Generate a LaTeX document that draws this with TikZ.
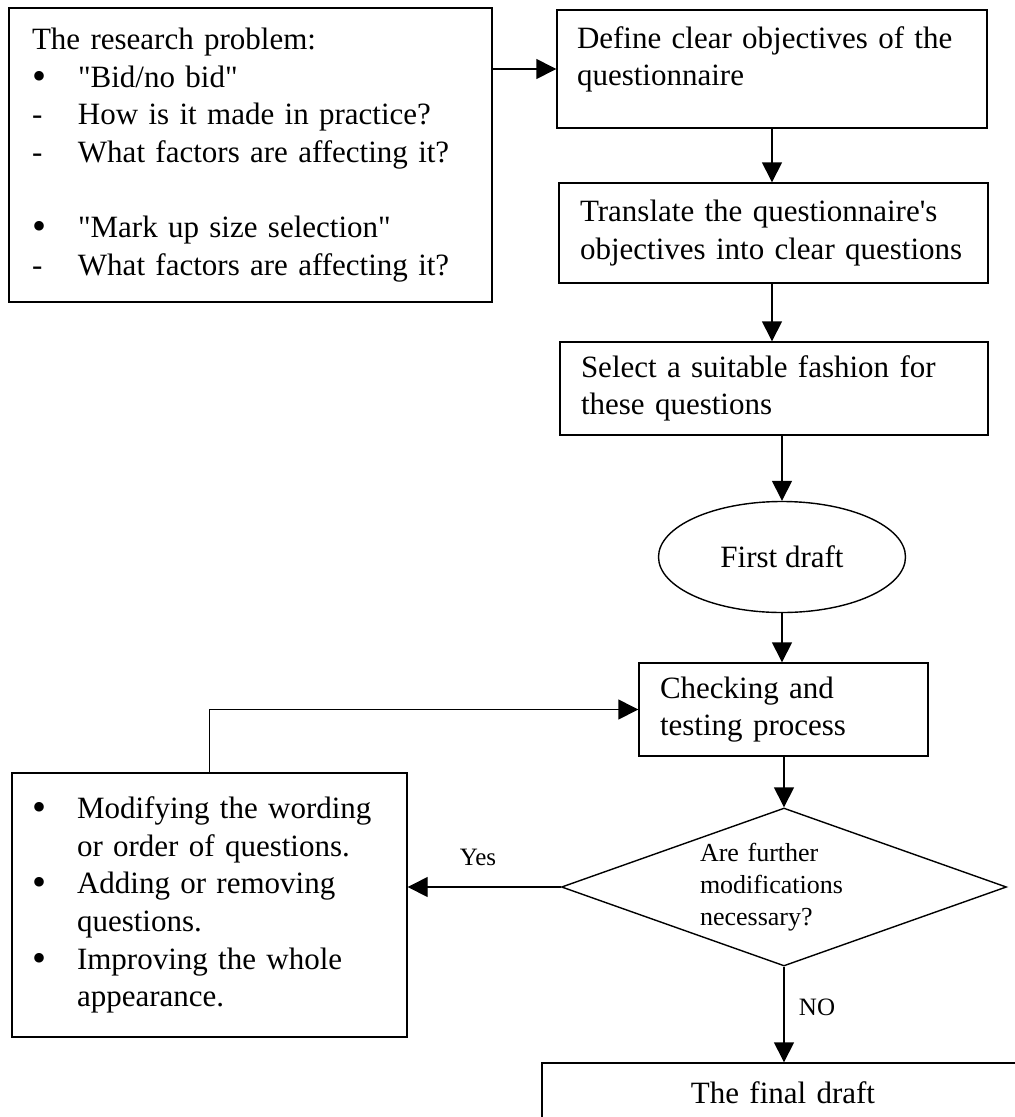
\documentclass[tikz,border=0pt]{standalone}
\usepackage{fontspec}
\setmainfont{Liberation Serif}[Ligatures=TeXOff]
\usetikzlibrary{arrows.meta,shapes.geometric}

% list markers used inside the boxes
\newcommand\bigdot{\raisebox{-2pt}{\fontsize{40}{40}\selectfont•}}
\newcommand\pbul{\makebox[46pt][l]{\bigdot}}
\newcommand\pdash{\makebox[46pt][l]{-}}
\newcommand\mbul{\makebox[45pt][l]{\bigdot}}
\newcommand\mgap{\hspace*{45pt}}

\begin{document}
\hyphenpenalty=10000\relax
\begin{tikzpicture}[x=1pt,y=-1pt,
  box/.style={draw, line width=1.4pt, rectangle, inner ysep=0pt, align=left,
    font=\fontsize{31}{37.7}\selectfont},
  arr/.style={line width=1.4pt, -{Triangle[length=20pt,width=20pt]}},
  lbl/.style={inner sep=0pt, font=\fontsize{25}{30}\selectfont}]
\useasboundingbox (0,0) rectangle (1015,1117);
\clip (0,0) rectangle (1015,1117);

% research problem
\node[box, inner xsep=23pt, text width=437pt, minimum height=294pt] (prob) at (250.5,155)
  {The research problem:\\
   \pbul"Bid/no bid"\\
   \pdash How is it made in practice?\\
   \pdash What factors are affecting it?\\[37.7pt]
   \pbul"Mark up size selection"\\
   \pdash What factors are affecting it?};

% main sequence
\node[box, inner xsep=20pt, text width=390pt, minimum height=118pt] (b1) at (772,69)
  {Define clear objectives of the\\questionnaire\\[-12pt]\mbox{}};
\node[box, inner xsep=21pt, text width=387pt, minimum height=100pt] (b2) at (773.5,233)
  {Translate the questionnaire's\\\mbox{objectives into clear questions}};
\node[box, inner xsep=21pt, text width=386pt, minimum height=93pt] (b3) at (774,388.5)
  {Select a suitable fashion for\\these questions};
\node[draw, line width=1.4pt, ellipse, inner sep=0pt, minimum width=247pt, minimum height=111pt,
  font=\fontsize{31}{37.7}\selectfont] (ell) at (782,557) {First draft};
\node[box, inner xsep=21pt, text width=247pt, minimum height=93pt] (chk) at (783.5,709.5)
  {Checking and\\testing process};
\node[draw, line width=1.4pt, diamond, inner sep=0pt, aspect=2.8, minimum width=445pt,
  minimum height=158pt, text width=168pt, align=left, font=\fontsize{26}{32}\selectfont] (dia) at (784,887)
  {Are further\\modifications\\necessary?};
\node[box, inner xsep=21pt, text width=440pt, minimum height=60pt, align=center] (fin) at (783,1093)
  {The final draft};

% modifications
\node[box, inner xsep=20pt, text width=355pt, minimum height=264pt] (mod) at (209.5,905)
  {\mbul Modifying the wording\\
   \mgap or order of questions.\\
   \mbul Adding or removing\\
   \mgap questions.\\
   \mbul Improving the whole\\
   \mgap appearance.};

% connectors
\draw[arr] (b1.west -| prob.east) -- (b1.west);
\draw[arr] (b1.south) -- (b1.south |- b2.north);
\draw[arr] (b2.south -| b1.south) -- (b1.south |- b3.north);
\draw[arr] (b3.south -| ell.north) -- (ell.north);
\draw[arr] (ell.south) -- (ell.south |- chk.north);
\draw[arr] (chk.south -| dia.north) -- (dia.north);
\draw[arr] (dia.south) -- (dia.south |- fin.north);
\draw[arr] (dia.west) -- (dia.west -| mod.east);
\draw[arr] (mod.north) |- (chk.west);

% branch labels
\node[lbl] (yes) at (478,857) {Yes};
\node[lbl] (no) at (817,1007) {NO};
\end{tikzpicture}
\end{document}
